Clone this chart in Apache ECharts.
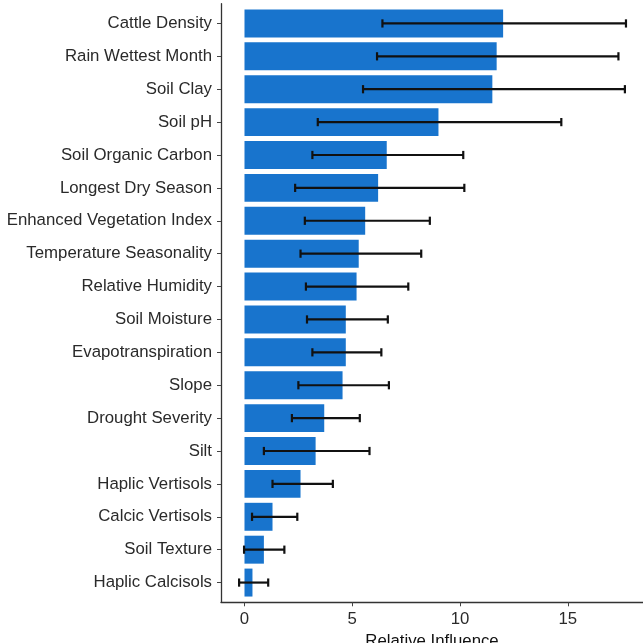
<!DOCTYPE html>
<html>
<head>
<meta charset="utf-8">
<script src="https://cdn.jsdelivr.net/npm/echarts@6/dist/echarts.min.js"></script>
<style>
  html, body { margin: 0; padding: 0; background: #fff; }
  #chart { width: 643px; height: 643px; }
</style>
</head>
<body>
<div id="chart"></div>
<script>
// Predictors, ordered from most to least influential
const categories = [
  'Cattle Density', 'Rain Wettest Month', 'Soil Clay', 'Soil pH',
  'Soil Organic Carbon', 'Longest Dry Season', 'Enhanced Vegetation Index',
  'Temperature Seasonality', 'Relative Humidity', 'Soil Moisture',
  'Evapotranspiration', 'Slope', 'Drought Severity', 'Silt',
  'Haplic Vertisols', 'Calcic Vertisols', 'Soil Texture', 'Haplic Calcisols'
];

// Mean relative influence (%)
const influence = [
  12.0, 11.7, 11.5, 9.0, 6.6, 6.2, 5.6, 5.3, 5.2,
  4.7, 4.7, 4.55, 3.7, 3.3, 2.6, 1.3, 0.9, 0.37
];

// Lower and upper bounds of the error bars
const lower = [
  6.4, 6.15, 5.5, 3.4, 3.15, 2.35, 2.8, 2.6, 2.85,
  2.9, 3.15, 2.5, 2.2, 0.9, 1.3, 0.35, -0.02, -0.25
];
const upper = [
  17.7, 17.35, 17.65, 14.7, 10.15, 10.2, 8.6, 8.2, 7.6,
  6.65, 6.35, 6.7, 5.35, 5.8, 4.1, 2.45, 1.85, 1.1
];

// Axis ticks
const xTicks = [0, 5, 10, 15];
const rowIndex = categories.map((_, i) => i);

const barData = categories.map((c, i) => [influence[i], i]);
const errData = categories.map((c, i) => [lower[i], upper[i], i]);

const chart = echarts.init(document.getElementById('chart'), null, { renderer: 'canvas' });

const textColor = '#2a2a2a';
const labelFont = 'Liberation Sans, Arial, Helvetica, sans-serif';

chart.setOption({
  backgroundColor: '#ffffff',
  animation: false,
  grid: {
    left: 221, right: 0, top: 3.7, bottom: 40.7,
    containLabel: false, outerBoundsMode: 'none'
  },
  xAxis: {
    type: 'value',
    min: -1.09,
    max: 18.49,
    name: 'Relative Influence',
    nameLocation: 'middle',
    nameGap: 27,
    nameTextStyle: { color: '#111', fontSize: 16.8, fontFamily: labelFont, verticalAlign: 'top' },
    axisLine: { show: true, onZero: false, lineStyle: { color: '#333', width: 1.3 } },
    axisTick: { show: true, length: 4, lineStyle: { color: '#444' }, customValues: xTicks },
    axisLabel: { color: textColor, fontSize: 16.8, fontFamily: labelFont, margin: 9, customValues: xTicks },
    splitLine: { show: false }
  },
  yAxis: {
    type: 'value',
    min: -0.6,
    max: 17.6,
    inverse: true,
    axisLine: { show: true, onZero: false, lineStyle: { color: '#333', width: 1.3 } },
    axisTick: { show: true, length: 4, lineStyle: { color: '#444' }, customValues: rowIndex },
    axisLabel: {
      color: textColor, fontSize: 16.8, fontFamily: labelFont, margin: 9,
      customValues: rowIndex,
      formatter: (v) => categories[Math.round(v)]
    },
    splitLine: { show: false }
  },
  series: [
    {
      // Bars for mean influence
      type: 'custom',
      data: barData,
      encode: { x: 0, y: 1 },
      renderItem: (params, api) => {
        const v = api.value(0);
        const row = api.value(1);
        const p0 = api.coord([0, row]);
        const p1 = api.coord([v, row]);
        const h = api.size([0, 0.85])[1];
        return {
          type: 'rect',
          shape: { x: p0[0], y: p0[1] - h / 2, width: p1[0] - p0[0], height: h },
          style: { fill: '#1874CD' }
        };
      },
      z: 2
    },
    {
      // Error bars with end caps
      type: 'custom',
      data: errData,
      encode: { x: [0, 1], y: 2 },
      renderItem: (params, api) => {
        const lo = api.value(0);
        const hi = api.value(1);
        const row = api.value(2);
        const a = api.coord([lo, row]);
        const b = api.coord([hi, row]);
        const cap = api.size([0, 0.25])[1] / 2;
        const style = { stroke: '#111', lineWidth: 2.2 };
        return {
          type: 'group',
          children: [
            { type: 'line', shape: { x1: a[0], y1: a[1], x2: b[0], y2: b[1] }, style },
            { type: 'line', shape: { x1: a[0], y1: a[1] - cap, x2: a[0], y2: a[1] + cap }, style },
            { type: 'line', shape: { x1: b[0], y1: b[1] - cap, x2: b[0], y2: b[1] + cap }, style }
          ]
        };
      },
      z: 3
    }
  ]
});
</script>
</body>
</html>
